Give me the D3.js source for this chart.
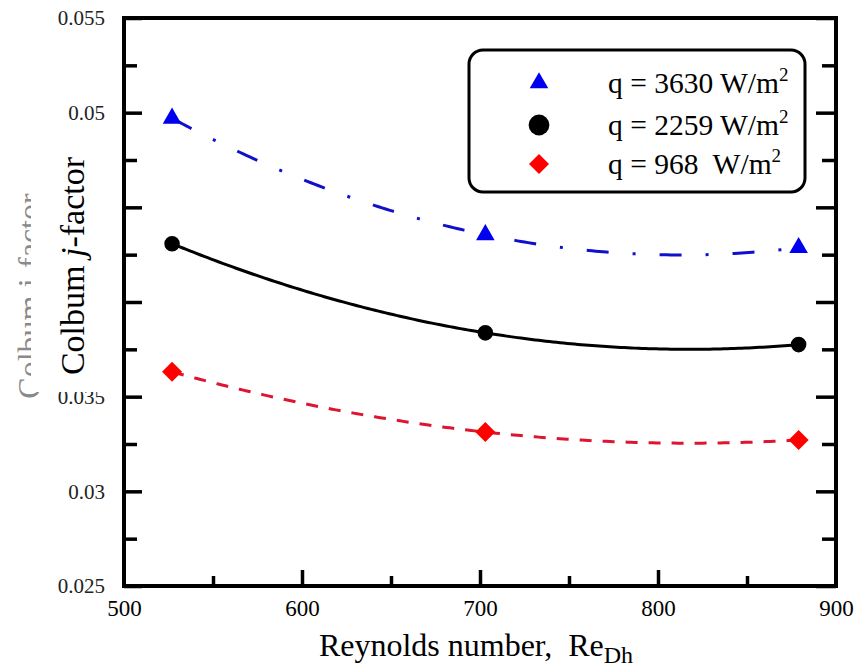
<!DOCTYPE html>
<html>
<head>
<meta charset="utf-8">
<script src="https://cdn.jsdelivr.net/npm/d3@7"></script>
<style>
  html, body { margin: 0; padding: 0; background: #fff; }
  svg { display: block; }
  svg text { font-family: "Liberation Serif", "Tinos", "Times New Roman", "Times", "DejaVu Serif", serif; white-space: pre; }
</style>
</head>
<body>
<svg id="chart" width="855" height="668"></svg>
<script>
// Reynolds numbers at which the j-factor was measured
const reynolds = [527, 703, 879];

// Colburn j-factor for each heat flux
const jHigh = [0.0497, 0.04355, 0.04287];   // q = 3630 W/m2
const jMid  = [0.04308, 0.03837, 0.03775];  // q = 2259 W/m2
const jLow  = [0.03631, 0.03313, 0.03271];  // q = 968 W/m2

const seriesNames = ["q = 3630 W/m", "q = 2259 W/m", "q = 968  W/m"];

// Axis ticks
const xMajor = [500, 600, 700, 800, 900];
const xMinor = [550, 650, 750, 850];
const yMajor = [0.025, 0.03, 0.035, 0.04, 0.045, 0.05, 0.055];
const yMinor = [0.0275, 0.0325, 0.0375, 0.0425, 0.0475, 0.0525];
const yTickLabels = ["0.025", "0.03", "0.035", "0.04", "0.045", "0.05", "0.055"];

const svg = d3.select("#chart");
const plot = { left: 124, right: 836, top: 18, bottom: 586 };

const x = d3.scaleLinear().domain([500, 900]).range([plot.left, plot.right]);
const y = d3.scaleLinear().domain([0.025, 0.055]).range([plot.bottom, plot.top]);

// Least-squares quadratic fit, used for the trend curve of each series
function quadFit(xs, ys) {
  const n = xs.length;
  const xm = d3.mean(xs);
  const u = xs.map(v => (v - xm) / 100);
  let S = [[0,0,0],[0,0,0],[0,0,0]], b = [0,0,0];
  for (let i = 0; i < n; i++) {
    const p = [1, u[i], u[i] * u[i]];
    for (let r = 0; r < 3; r++) {
      b[r] += p[r] * ys[i];
      for (let c = 0; c < 3; c++) S[r][c] += p[r] * p[c];
    }
  }
  for (let k = 0; k < 3; k++) {
    for (let r = k + 1; r < 3; r++) {
      const f = S[r][k] / S[k][k];
      for (let c = k; c < 3; c++) S[r][c] -= f * S[k][c];
      b[r] -= f * b[k];
    }
  }
  const co = [0,0,0];
  for (let r = 2; r >= 0; r--) {
    let s = b[r];
    for (let c = r + 1; c < 3; c++) s -= S[r][c] * co[c];
    co[r] = s / S[r][r];
  }
  return v => { const t = (v - xm) / 100; return co[0] + co[1] * t + co[2] * t * t; };
}

const series = [
  { vals: jHigh, color: "#0000ee", lineColor: "#1010cc", dash: "22,24,3,24", shape: "tri" },
  { vals: jMid,  color: "#000000", lineColor: "#000000", dash: null,          shape: "circle" },
  { vals: jLow,  color: "#ff0000", lineColor: "#dd1530", dash: "12,11",       shape: "diamond" }
];

const line = d3.line().x(d => x(d[0])).y(d => y(d[1]));

// Trend curves
series.forEach(s => {
  const f = quadFit(reynolds, s.vals);
  const xs = d3.range(reynolds[0], reynolds[reynolds.length - 1] + 0.5, 2);
  svg.append("path")
    .attr("d", line(xs.map(v => [v, f(v)])))
    .attr("fill", "none")
    .attr("stroke", s.lineColor)
    .attr("stroke-width", 3)
    .attr("stroke-dasharray", s.dash);
});

function marker(g, shape, color, big) {
  let sym, rot = 0;
  if (shape === "tri") sym = d3.symbol(d3.symbolTriangle, 150);
  else if (shape === "circle") sym = d3.symbol(d3.symbolCircle, big ? 340 : 190);
  else { sym = d3.symbol(d3.symbolSquare, 200); rot = 45; }
  g.append("path")
    .attr("d", sym())
    .attr("transform", `rotate(${rot})`)
    .attr("fill", color);
}

// Data markers
series.forEach(s => {
  reynolds.forEach((r, i) => {
    const g = svg.append("g").attr("transform", `translate(${x(r)},${y(s.vals[i])})`);
    marker(g, s.shape, s.color, false);
  });
});

// Axes: ticks point inward on left and bottom, mirrored on the right
function styleAxis(g) {
  g.attr("font-family", null);
  g.select(".domain").remove();
  g.selectAll(".tick line").attr("stroke", "#000").attr("stroke-width", 3.5);
}

const yAxis = svg.append("g").attr("transform", `translate(${plot.left},0)`)
  .call(d3.axisLeft(y).tickValues(yMajor).tickSize(-18).tickPadding(19)
        .tickFormat((d, i) => yTickLabels[i]))
  .call(styleAxis);
yAxis.selectAll("text").attr("font-size", 21).attr("fill", "#222");

svg.append("g").attr("transform", `translate(${plot.left},0)`)
  .call(d3.axisLeft(y).tickValues(yMinor).tickSize(-13).tickFormat(""))
  .call(styleAxis);

svg.append("g").attr("transform", `translate(${plot.right},0)`)
  .call(d3.axisRight(y).tickValues(yMajor).tickSize(-20).tickFormat(""))
  .call(styleAxis);
svg.append("g").attr("transform", `translate(${plot.right},0)`)
  .call(d3.axisRight(y).tickValues(yMinor).tickSize(-14).tickFormat(""))
  .call(styleAxis);

const xAxis = svg.append("g").attr("transform", `translate(0,${plot.bottom})`)
  .call(d3.axisBottom(x).tickValues(xMajor).tickSize(-16).tickPadding(14).tickFormat(d3.format("d")))
  .call(styleAxis);
xAxis.selectAll("text").attr("font-size", 23).attr("fill", "#000");
xAxis.selectAll(".tick").filter(d => d === 500 || d === 900).select("line").remove();

svg.append("g").attr("transform", `translate(0,${plot.bottom})`)
  .call(d3.axisBottom(x).tickValues(xMinor).tickSize(-10).tickFormat(""))
  .call(styleAxis);

// Frame
svg.append("rect")
  .attr("x", plot.left).attr("y", plot.top)
  .attr("width", plot.right - plot.left).attr("height", plot.bottom - plot.top)
  .attr("fill", "none").attr("stroke", "#000").attr("stroke-width", 4);

// Faint underlying y title, partly covered by the label panel
svg.append("text")
  .attr("transform", "translate(40,296) rotate(-90)")
  .attr("text-anchor", "middle")
  .attr("font-size", 32)
  .attr("fill", "#8a8a8a")
  .text("Colbum j-factor");

svg.append("rect")
  .attr("x", 31).attr("y", 128).attr("width", 78).attr("height", 264)
  .attr("fill", "#fff");

const yTitle = svg.append("text")
  .attr("transform", "translate(84,266) rotate(-90)")
  .attr("text-anchor", "middle")
  .attr("font-size", 34)
  .attr("fill", "#000");
yTitle.append("tspan").text("Colbum ");
yTitle.append("tspan").attr("font-style", "italic").text("j");
yTitle.append("tspan").text("-factor");

// X title
const xTitle = svg.append("text")
  .attr("x", 476).attr("y", 656)
  .attr("text-anchor", "middle")
  .attr("font-size", 32)
  .attr("fill", "#000");
xTitle.append("tspan").text("Reynolds number,  Re");
xTitle.append("tspan").attr("font-size", 24).attr("dy", 7).text("Dh");

// Legend
const legend = svg.append("g");
legend.append("rect")
  .attr("x", 469).attr("y", 50).attr("width", 336).attr("height", 142)
  .attr("rx", 14).attr("ry", 14)
  .attr("fill", "#fff").attr("stroke", "#000").attr("stroke-width", 3);

const rowY = [83, 125, 164];
series.forEach((s, i) => {
  const g = legend.append("g").attr("transform", `translate(539,${rowY[i]})`);
  marker(g, s.shape, s.color, true);
  const t = legend.append("text")
    .attr("x", 608).attr("y", rowY[i] + 10)
    .attr("font-size", 29.5)
    .attr("fill", "#000");
  t.append("tspan").text(seriesNames[i]);
  t.append("tspan").attr("font-size", 19).attr("dy", -12).text("2");
});
</script>
</body>
</html>
